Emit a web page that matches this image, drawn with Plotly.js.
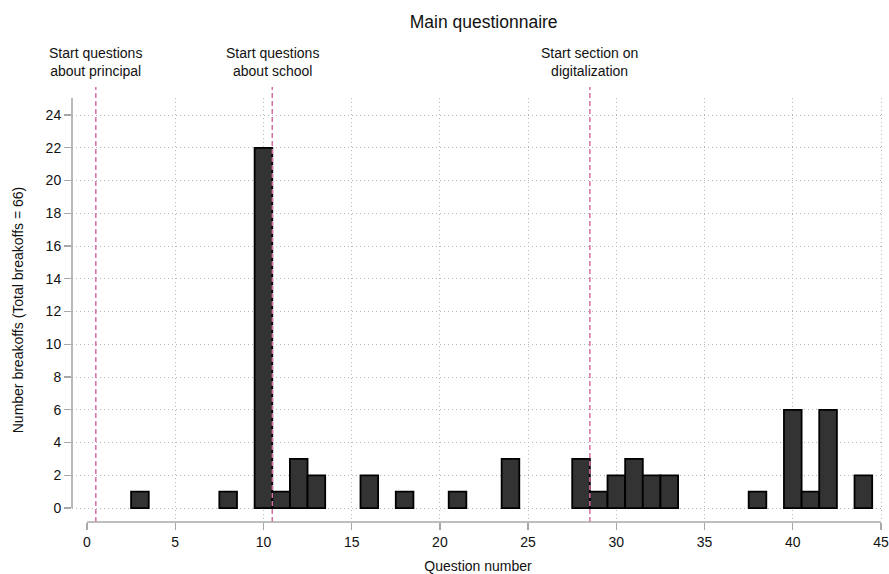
<!DOCTYPE html>
<html>
<head>
<meta charset="utf-8">
<script src="https://cdn.plot.ly/plotly-3.0.1.min.js"></script>
<style>html,body{margin:0;padding:0;background:#fff;}#chart{width:889px;height:574px;}</style>
</head>
<body>
<div id="chart"></div>
<script>
// Data
const questionNumbers = [3, 8, 10, 11, 12, 13, 16, 18, 21, 24, 28, 29, 30, 31, 32, 33, 38, 40, 41, 42, 44];
const breakoffs       = [1, 1, 22, 1, 3, 2, 2, 1, 1, 3, 3, 1, 2, 3, 2, 2, 1, 6, 1, 6, 2];
const sectionStarts   = [0.5, 10.5, 28.5];
const sectionLabels   = ["Start questions<br>about principal", "Start questions<br>about school", "Start section on<br>digitalization"];
const xTicks = [0, 5, 10, 15, 20, 25, 30, 35, 40, 45];
const yTicks = [0, 2, 4, 6, 8, 10, 12, 14, 16, 18, 20, 22, 24];

const FONT = "Liberation Sans, Arial, sans-serif";
const AXIS_GRAY = "#a8a8a8";
const GRID = "#b4b4b4";
const PINK = "#d66fa6";

const traces = [
  {
    type: "bar",
    x: questionNumbers,
    y: breakoffs,
    width: 1,
    marker: {color: "#333333", line: {color: "#000000", width: 1.8}},
    hoverinfo: "x+y",
    xaxis: "x", yaxis: "y"
  },
  // invisible trace for grid axis
  {type: "scatter", x: [0], y: [0], mode: "markers", marker: {opacity: 0}, xaxis: "x2", yaxis: "y", hoverinfo: "skip", showlegend: false}
];

const shapes = [];
// Section lines
sectionStarts.forEach(v => {
  shapes.push({type: "line", xref: "x", yref: "paper", x0: v, x1: v, y0: 0, y1: 1.026,
    line: {color: PINK, width: 1.5, dash: "5px,3px"}});
});
// Stata-style detached axis lines
shapes.push({type: "line", xref: "paper", yref: "y", x0: 0, x1: 0, y0: 0, y1: 25.04,
  line: {color: AXIS_GRAY, width: 1.6}});
shapes.push({type: "line", xref: "x", yref: "paper", x0: 0, x1: 45, y0: 0, y1: 0,
  line: {color: AXIS_GRAY, width: 1.6}});

const annotations = sectionStarts.map((v, i) => ({
  x: v, xref: "x", y: 1.04, yref: "paper", yanchor: "bottom", xanchor: "center",
  text: sectionLabels[i], showarrow: false, align: "center",
  font: {family: FONT, size: 14, color: "#111"}
}));

const layout = {
  width: 889, height: 574,
  margin: {l: 72, r: 5, t: 98, b: 52, pad: 0},
  paper_bgcolor: "#ffffff", plot_bgcolor: "#ffffff",
  showlegend: false,
  bargap: 0,
  title: {text: "Main questionnaire", x: 0.507, xref: "paper", xanchor: "center", y: 0.962, yanchor: "middle",
    font: {family: FONT, size: 17.5, color: "#111"}},
  font: {family: FONT, size: 14, color: "#111"},
  xaxis: {
    range: [-0.85, 45.17], tickvals: xTicks, ticktext: xTicks.map(String),
    showgrid: false, zeroline: false, showline: false,
    ticks: "outside", ticklen: 7, tickwidth: 1.3, tickcolor: AXIS_GRAY,
    tickfont: {family: FONT, size: 14, color: "#111"},
    title: {text: "Question number", font: {family: FONT, size: 14, color: "#111"}, standoff: 12}
  },
  xaxis2: {
    range: [-0.85, 45.17], overlaying: "x", tickvals: xTicks.filter(t => t > 0),
    showgrid: true, gridcolor: GRID, griddash: "1px,3px", gridwidth: 1,
    showticklabels: false, ticks: "", zeroline: false, showline: false
  },
  yaxis: {
    range: [-0.85, 25.04], tickvals: yTicks, ticktext: yTicks.map(String),
    showgrid: true, gridcolor: GRID, griddash: "1px,3px", gridwidth: 1,
    zeroline: false, showline: false,
    ticks: "outside", ticklen: 7, tickwidth: 1.3, tickcolor: AXIS_GRAY,
    tickfont: {family: FONT, size: 14, color: "#111"},
    title: {text: "Number breakoffs (Total breakoffs = 66)", font: {family: FONT, size: 14, color: "#111"}, standoff: 18}
  },
  shapes: shapes,
  annotations: annotations
};

Plotly.newPlot("chart", traces, layout, {displayModeBar: false, staticPlot: true});
</script>
</body>
</html>
